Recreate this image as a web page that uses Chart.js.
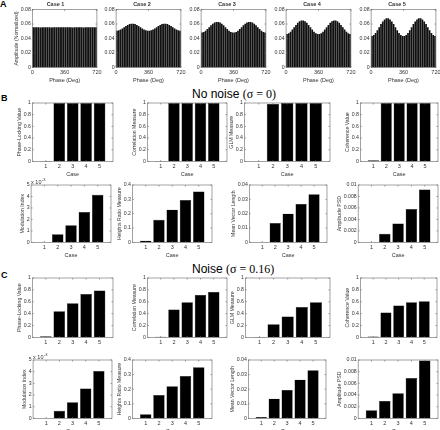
<!DOCTYPE html>
<html>
<head>
<meta charset="utf-8">
<script src="https://cdn.jsdelivr.net/npm/chart.js@4.4.1/dist/chart.umd.min.js"></script>
<style>
  html, body { margin: 0; padding: 0; background: #fff; }
  #fig { position: relative; width: 440px; height: 430px; overflow: hidden; font-family: 'Liberation Sans', Arial, sans-serif; }
  #fig canvas { position: absolute; }
  .lbl { position: absolute; font-weight: bold; font-size: 9px; line-height: 1; color: #000; }
  .head { position: absolute; font-size: 12px; line-height: 1; white-space: nowrap; color: #000; }
  .head .s { font-family: 'Liberation Serif', 'Times New Roman', serif; }
</style>
</head>
<body>
<div id="fig">
  <div class="lbl" style="left:0px;top:0px">A</div>
  <div class="lbl" style="left:1px;top:94px">B</div>
  <div class="lbl" style="left:1px;top:271px">C</div>
  <div class="head" style="left:192px;top:88px">No noise <span class="s">(σ = 0)</span></div>
  <div class="head" style="left:192px;top:263px">Noise <span class="s">(σ = 0.16)</span></div>
</div>
<script>
// ===================== Data =====================
const cases = ['1', '2', '3', '4', '5'];
const caseTitles = ['Case 1', 'Case 2', 'Case 3', 'Case 4', 'Case 5'];
const phaseTicks = [0, 360, 720];
// bin centres (deg), two cycles shown
const phaseBins = [10, 30, 50, 70, 90, 110, 130, 150, 170, 190, 210, 230, 250, 270, 290, 310, 330, 350,
                   370, 390, 410, 430, 450, 470, 490, 510, 530, 550, 570, 590, 610, 630, 650, 670, 690, 710];

// normalized amplitude per phase bin (one cycle, repeated for 360-720)
const ampCase1 = [0.0557, 0.0554, 0.0556, 0.0555, 0.0553, 0.0556, 0.0557, 0.0554, 0.0555,
                  0.0556, 0.0553, 0.0555, 0.0557, 0.0554, 0.0556, 0.0555, 0.0554, 0.0556];
const ampCase2 = [0.0507, 0.0513, 0.0524, 0.0539, 0.0556, 0.0573, 0.0588, 0.0599, 0.0605,
                  0.0605, 0.0599, 0.0588, 0.0573, 0.0556, 0.0539, 0.0524, 0.0513, 0.0507];
const ampCase3 = [0.0482, 0.0491, 0.0508, 0.0530, 0.0556, 0.0582, 0.0604, 0.0621, 0.0630,
                  0.0630, 0.0621, 0.0604, 0.0582, 0.0556, 0.0530, 0.0508, 0.0491, 0.0482];
const ampCase4 = [0.0462, 0.0474, 0.0495, 0.0524, 0.0556, 0.0588, 0.0617, 0.0638, 0.0650,
                  0.0650, 0.0638, 0.0617, 0.0588, 0.0556, 0.0524, 0.0495, 0.0474, 0.0462];
const ampCase5 = [0.0433, 0.0448, 0.0476, 0.0513, 0.0556, 0.0599, 0.0636, 0.0664, 0.0679,
                  0.0679, 0.0664, 0.0636, 0.0599, 0.0556, 0.0513, 0.0476, 0.0448, 0.0433];

// No noise (sigma = 0)
const plvNoNoise  = [0.005, 1, 1, 1, 1];
const corrNoNoise = [0.005, 1, 1, 1, 1];
const glmNoNoise  = [0, 0.985, 1, 1, 1];
const cohNoNoise  = [0.02, 1, 1, 1, 1];
const miNoNoise   = [0, 0.7, 1.5, 2.65, 4.15];   // x 10^-3
const hrNoNoise   = [0.012, 0.157, 0.228, 0.295, 0.355];
const mvlNoNoise  = [0, 0.0135, 0.020, 0.0268, 0.0335];
const psdNoNoise  = [0, 0.0015, 0.0033, 0.0058, 0.0092];

// Noise (sigma = 0.16)
const plvNoise  = [0.02, 0.44, 0.575, 0.73, 0.79];
const corrNoise = [0.01, 0.47, 0.59, 0.715, 0.765];
const glmNoise  = [0.005, 0.22, 0.35, 0.51, 0.59];
const cohNoise  = [0.015, 0.42, 0.535, 0.59, 0.61];
const miNoise   = [0, 0.65, 1.38, 2.55, 4.05];    // x 10^-3
const hrNoise   = [0.028, 0.16, 0.22, 0.29, 0.35];
const mvlNoise  = [0.001, 0.0135, 0.0195, 0.0265, 0.033];
const psdNoise  = [0.0014, 0.003, 0.0043, 0.0069, 0.0099];

// ===================== Chart setup =====================
Chart.defaults.font.family = "'Liberation Sans', Arial, sans-serif";
Chart.defaults.font.size = 5.5;
Chart.defaults.color = '#333';
Chart.defaults.animation = false;

const fmt = v => String(+Number(v).toFixed(4));
const titleFont = { size: 5.2, lineHeight: 1 };

// MATLAB style box with inward ticks, plus optional exponent note
const boxPlugin = {
    id: 'box',
    afterDatasetsDraw(chart, args, opts) {
        const { ctx, chartArea: a, scales } = chart;
        ctx.save();
        ctx.strokeStyle = '#666';
        ctx.lineWidth = 0.6;
        ctx.strokeRect(a.left, a.top, a.right - a.left, a.bottom - a.top);
        ctx.beginPath();
        scales.x.ticks.forEach(t => {
            if (t.label === '') return;
            const px = scales.x.getPixelForValue(t.value);
            ctx.moveTo(px, a.bottom); ctx.lineTo(px, a.bottom - 1.5);
            ctx.moveTo(px, a.top); ctx.lineTo(px, a.top + 1.5);
        });
        scales.y.ticks.forEach(t => {
            const py = scales.y.getPixelForValue(t.value);
            ctx.moveTo(a.left, py); ctx.lineTo(a.left + 1.5, py);
            ctx.moveTo(a.right, py); ctx.lineTo(a.right - 1.5, py);
        });
        ctx.stroke();
        if (opts && opts.note) {
            ctx.fillStyle = '#333';
            ctx.textBaseline = 'alphabetic';
            ctx.font = "5.5px 'Liberation Sans', Arial, sans-serif";
            ctx.fillText('x 10', a.left, a.top - 1.5);
            const w = ctx.measureText('x 10').width;
            ctx.font = "4px 'Liberation Sans', Arial, sans-serif";
            ctx.fillText(opts.note, a.left + w + 0.5, a.top - 4);
        }
        ctx.restore();
    }
};

function phaseConfig(amp, title, yTitle) {
    const twoCycles = amp.concat(amp);
    return {
        type: 'bar',
        data: {
            datasets: [{
                data: phaseBins.map((b, i) => ({ x: b, y: twoCycles[i] })),
                backgroundColor: '#111',
                categoryPercentage: 1,
                barPercentage: 0.95
            }]
        },
        options: {
            responsive: false,
            layout: { padding: { top: 1, right: 6, left: 0, bottom: 0 } },
            plugins: {
                legend: { display: false },
                tooltip: { enabled: false },
                title: { display: true, text: title, font: { size: 5.5 }, color: '#333', padding: { top: 0, bottom: 2 } },
                box: {}
            },
            scales: {
                x: {
                    type: 'linear', min: 0, max: 720, offset: false,
                    afterBuildTicks: s => { s.ticks = phaseTicks.map(v => ({ value: v })); },
                    grid: { display: false, drawTicks: false }, border: { display: false },
                    ticks: { padding: 1.5, maxRotation: 0, autoSkip: false },
                    title: { display: true, text: 'Phase (Deg)', font: { size: 5.5, lineHeight: 1 }, padding: { top: 0.5, bottom: 0 } }
                },
                y: {
                    min: 0, max: 0.08,
                    grid: { display: false, drawTicks: false }, border: { display: false },
                    ticks: { stepSize: 0.02, padding: 1.5, font: { size: 5.2 }, callback: fmt },
                    title: { display: !!yTitle, text: yTitle, font: titleFont, padding: { top: 0, bottom: 0 } }
                }
            }
        },
        plugins: [boxPlugin]
    };
}

function caseConfig(values, yMax, yStep, yTitle, xTitle, note) {
    return {
        type: 'bar',
        data: {
            datasets: [{
                data: cases.map((c, i) => ({ x: Number(c), y: values[i] })),
                backgroundColor: '#000',
                borderColor: '#000',
                borderWidth: 0.4,
                categoryPercentage: 1,
                barPercentage: 0.86
            }]
        },
        options: {
            responsive: false,
            layout: { padding: { top: 8, right: 3, left: 0, bottom: 0 } },
            plugins: {
                legend: { display: false },
                tooltip: { enabled: false },
                box: { note: note }
            },
            scales: {
                x: {
                    type: 'linear', min: 0, max: 6, offset: false,
                    grid: { display: false, drawTicks: false }, border: { display: false },
                    ticks: {
                        stepSize: 1, padding: 1.5, maxRotation: 0, autoSkip: false,
                        callback: v => (cases.includes(String(v)) ? String(v) : '')
                    },
                    title: { display: !!xTitle, text: xTitle, font: { size: 5.5, lineHeight: 1 }, padding: { top: 0.5, bottom: 0 } }
                },
                y: {
                    min: 0, max: yMax,
                    grid: { display: false, drawTicks: false }, border: { display: false },
                    ticks: { stepSize: yStep, padding: 1.5, font: { size: 5.2 }, callback: fmt },
                    title: { display: true, text: yTitle, font: titleFont, padding: { top: 0, bottom: 0 } }
                }
            }
        },
        plugins: [boxPlugin]
    };
}

// create chart so that its plot area lands on [L, T, R, B]
function place(makeConfig, L, T, R, B) {
    const fig = document.getElementById('fig');
    let cv = document.createElement('canvas');
    cv.width = R - L + 60; cv.height = B - T + 50;
    fig.appendChild(cv);
    let ch = new Chart(cv, makeConfig());
    const a = ch.chartArea;
    const w = Math.round(cv.width + (R - L) - (a.right - a.left));
    const h = Math.round(cv.height + (B - T) - (a.bottom - a.top));
    ch.destroy(); cv.remove();
    cv = document.createElement('canvas');
    cv.width = w; cv.height = h;
    fig.appendChild(cv);
    ch = new Chart(cv, makeConfig());
    cv.style.left = Math.round(L - ch.chartArea.left) + 'px';
    cv.style.top = Math.round(T - ch.chartArea.top) + 'px';
    return ch;
}

// ===================== Panel A =====================
const ampSets = [ampCase1, ampCase2, ampCase3, ampCase4, ampCase5];
const aLefts = [32, 116.5, 201, 286, 371];
ampSets.forEach((amp, i) => {
    place(() => phaseConfig(amp, caseTitles[i], i === 0 ? 'Amplitude (Normalized)' : ''),
          aLefts[i], 10, aLefts[i] + 65, 68);
});

// ===================== Panel B =====================
place(() => caseConfig(plvNoNoise, 1, 0.2, 'Phase-Locking Value', 'Case'), 32, 103, 113, 161);
place(() => caseConfig(corrNoNoise, 1, 0.2, 'Correlation Measure', 'Case'), 147, 103, 227, 161);
place(() => caseConfig(glmNoNoise, 1, 0.2, 'GLM Measure', 'Case'), 244, 103, 330, 161);
place(() => caseConfig(cohNoNoise, 1, 0.2, 'Coherence Value', 'Case'), 360, 103, 438, 161);

place(() => caseConfig(miNoNoise, 5, 1, 'Modulation Index', 'Case', '-3'), 31, 185, 111, 242);
place(() => caseConfig(hrNoNoise, 0.4, 0.1, 'Heights Ratio Measure', 'Case'), 132, 185, 212, 242);
place(() => caseConfig(mvlNoNoise, 0.04, 0.01, 'Mean Vector Length', 'Case'), 249, 185, 327, 242);
place(() => caseConfig(psdNoNoise, 0.01, 0.002, 'Amplitude PSD', 'Case'), 358, 185, 438, 242);

// ===================== Panel C =====================
place(() => caseConfig(plvNoise, 1, 0.2, 'Phase-Locking Value', ''), 32, 278, 113, 337);
place(() => caseConfig(corrNoise, 1, 0.2, 'Correlation Measure', ''), 147, 278, 227, 337);
place(() => caseConfig(glmNoise, 1, 0.2, 'GLM Measure', ''), 245, 278, 330, 337);
place(() => caseConfig(cohNoise, 1, 0.2, 'Coherence Value', ''), 360, 278, 437, 337);

place(() => caseConfig(miNoise, 5, 1, 'Modulation Index', 'Case', '-3'), 33, 360, 112, 418);
place(() => caseConfig(hrNoise, 0.4, 0.1, 'Heights Ratio Measure', 'Case'), 132, 360, 212, 418);
place(() => caseConfig(mvlNoise, 0.04, 0.01, 'Mean Vector Length', 'Case'), 248, 360, 326, 418);
place(() => caseConfig(psdNoise, 0.01, 0.002, 'Amplitude PSD', 'Case'), 358, 360, 438, 418);
</script>
</body>
</html>
